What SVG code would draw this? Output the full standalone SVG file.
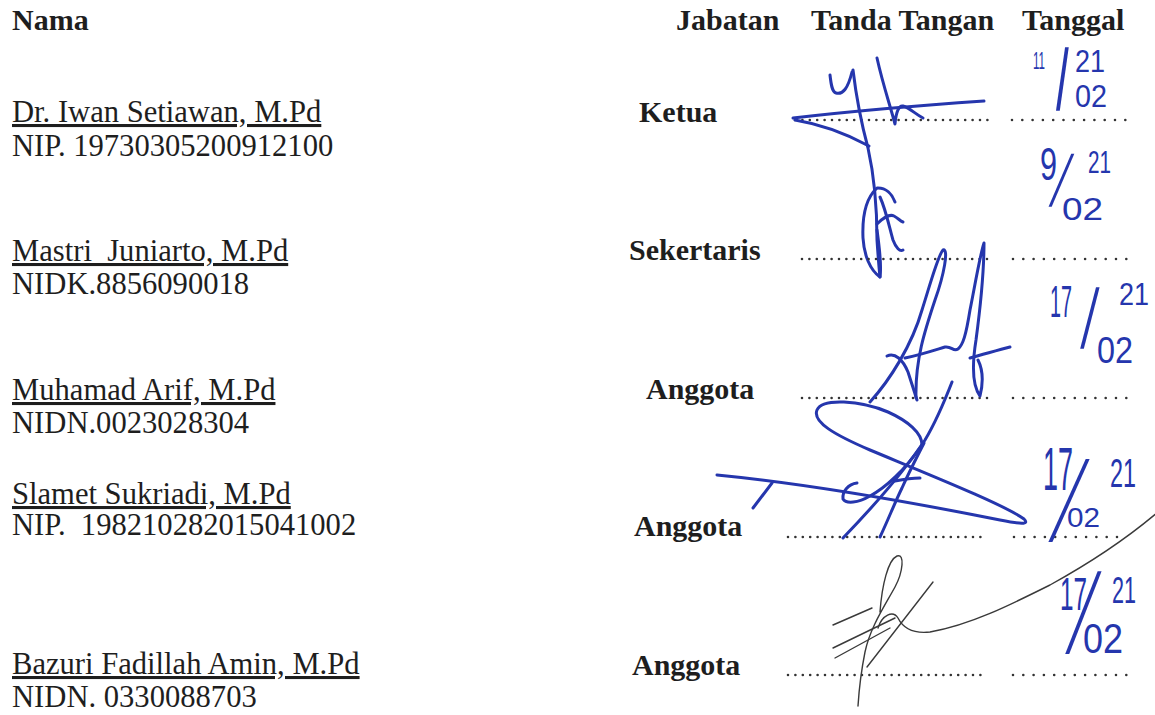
<svg xmlns="http://www.w3.org/2000/svg" width="1155" height="715" viewBox="0 0 1155 715">
<style>
.t{font-family:"Liberation Serif","Times New Roman",serif;font-size:30.6px;fill:#1e1e1e}
.b{font-weight:bold;font-size:30px}
.u{text-decoration:underline}
.dots{stroke:#333;stroke-width:2.6;stroke-linecap:round;stroke-dasharray:0 7.4;fill:none}
.dd{stroke-dasharray:0 10.3}
.sig{fill:none;stroke:#2536ad;stroke-width:3;stroke-linecap:round;stroke-linejoin:round}
.sigk{fill:none;stroke:#3a3a3a;stroke-width:1.4;stroke-linecap:round;stroke-linejoin:round}
.hw{font-family:"Liberation Sans",Arial,sans-serif;fill:#2536ad}
</style>
<rect width="1155" height="715" fill="#fff"/>

<g id="header">
<text class="t b" x="12" y="30">Nama</text>
<text class="t b" x="676" y="30">Jabatan</text>
<text class="t b" x="811" y="30">Tanda Tangan</text>
<text class="t b" x="1022" y="30">Tanggal</text>
</g>

<g id="row-1">
<text class="t u" x="12" y="122">Dr. Iwan Setiawan, M.Pd</text>
<text class="t" x="12" y="156">NIP. 19730305200912100</text>
<text class="t b" x="639" y="122">Ketua</text>
<line class="dots" x1="795" y1="120" x2="988" y2="120"/>
<line class="dots dd" x1="1012" y1="120" x2="1126" y2="120"/>
<g id="sig-1" class="sig">
<path d="M793,118 Q 880,108 984,101"/>
<path d="M795,120 Q 832,126 869,146"/>
<path d="M830,75 C 831,84 832,92 836,93 C 843,95 848,88 852,72"/>
<path d="M853,70 C 856,95 861,122 868,148 C 874,175 877,205 877,240 C 878,255 879,268 880,277"/>
<path d="M877,58 C 883,85 890,105 895,124 C 896,112 899,105 903,106 C 910,108 915,114 923,118"/>
<path d="M877,188 C 866,198 862,215 863,238 C 864,255 870,270 880,277 C 882,265 879,245 877,230"/>
<path d="M878,188 C 886,188 892,194 895,202"/>
<path d="M880,197 C 886,210 890,230 893,240 C 896,248 900,252 903,250"/>
<path d="M877,224 C 883,218 890,214 894,216 C 898,218 900,221 903,222"/>
</g>
<g id="date-1" class="hw">
<text x="1033" y="69" font-size="23" textLength="12" lengthAdjust="spacingAndGlyphs">11</text>
<text font-size="86.7" transform="matrix(0.55,0,0.008,1,1056.1,110.3)">/</text>
<text x="1075" y="72" font-size="31" textLength="30" lengthAdjust="spacingAndGlyphs">21</text>
<text x="1075" y="107" font-size="31" textLength="32" lengthAdjust="spacingAndGlyphs">02</text>
</g>
</g>

<g id="row-2">
<text class="t u" x="12" y="261" xml:space="preserve">Mastri  Juniarto, M.Pd</text>
<text class="t" x="12" y="294">NIDK.8856090018</text>
<text class="t b" x="629" y="260">Sekertaris</text>
<line class="dots" x1="802" y1="259" x2="994" y2="259"/>
<line class="dots dd" x1="1013" y1="259" x2="1127" y2="259"/>
<g id="date-2" class="hw">
<text x="1040" y="180" font-size="46" textLength="17" lengthAdjust="spacingAndGlyphs">9</text>
<text font-size="72" transform="matrix(0.55,0,-0.279,1,1048.8,205.6)">/</text>
<text x="1088" y="173" font-size="32" textLength="23" lengthAdjust="spacingAndGlyphs">21</text>
<text x="1062" y="220" font-size="32" textLength="41" lengthAdjust="spacingAndGlyphs">02</text>
</g>
</g>

<g id="row-3">
<text class="t u" x="12" y="400">Muhamad Arif, M.Pd</text>
<text class="t" x="12" y="433">NIDN.0023028304</text>
<text class="t b" x="646" y="399">Anggota</text>
<line class="dots" x1="802" y1="398" x2="994" y2="398"/>
<line class="dots dd" x1="1013" y1="398" x2="1127" y2="398"/>
<g id="sig-3" class="sig">
<path d="M870,402 C 890,380 912,345 922,310 C 930,285 938,255 943,250 C 949,248 944,275 935,300 C 925,330 915,360 916,398"/>
<path d="M887,356 C 895,352 903,360 908,372 L 917,400"/>
<path d="M905,358 C 920,355 935,350 945,347 C 952,346 953,352 958,349 C 963,345 966,335 970,310 C 975,285 980,255 984,243 C 984,270 980,310 976,340 C 972,365 972,385 980,396 C 984,380 982,368 978,360"/>
<path d="M970,358 C 985,354 998,350 1010,347"/>
</g>
<g id="date-3" class="hw">
<text x="1050" y="317" font-size="44" textLength="22" lengthAdjust="spacingAndGlyphs">17</text>
<text font-size="84" transform="matrix(0.55,0,-0.107,1,1080.3,348.3)">/</text>
<text x="1119" y="305" font-size="32" textLength="30" lengthAdjust="spacingAndGlyphs">21</text>
<text x="1097" y="363" font-size="36" textLength="36" lengthAdjust="spacingAndGlyphs">02</text>
</g>
</g>

<g id="row-4">
<text class="t u" x="12" y="504">Slamet Sukriadi, M.Pd</text>
<text class="t" x="12" y="535" xml:space="preserve">NIP.  198210282015041002</text>
<text class="t b" x="634" y="536">Anggota</text>
<line class="dots" x1="788" y1="537" x2="981" y2="537"/>
<line class="dots dd" x1="1014" y1="537" x2="1127" y2="537"/>
<g id="sig-4" class="sig">
<path d="M717,475 C 800,483 900,500 1000,520 C 1020,524 1030,525 1024,519 C 1005,505 930,475 870,450 C 835,435 812,422 817,410 C 822,398 860,400 888,412 C 908,421 922,433 922,445"/>
<path d="M772,483 L 753,508"/>
<path d="M857,483 C 848,484 842,492 843,499 C 846,504 858,503 870,496 C 885,488 905,470 922,445"/>
<path d="M843,538 C 870,510 905,470 925,440 C 937,420 945,400 952,382"/>
<path d="M880,537 C 888,520 896,500 902,488 C 910,470 918,455 924,443"/>
<path d="M895,481 C 905,479 913,478 920,478"/>
</g>
<g id="date-4" class="hw">
<text x="1043" y="490" font-size="62" textLength="30" lengthAdjust="spacingAndGlyphs">17</text>
<text font-size="113" transform="matrix(0.45,0,-0.327,1,1048.7,540.7)">/</text>
<text x="1110" y="487" font-size="40" textLength="26" lengthAdjust="spacingAndGlyphs">21</text>
<text x="1067" y="527" font-size="27" textLength="33" lengthAdjust="spacingAndGlyphs">02</text>
</g>
</g>

<g id="row-5">
<text class="t u" x="12" y="674">Bazuri Fadillah Amin, M.Pd</text>
<text class="t" x="12" y="707">NIDN. 0330088703</text>
<text class="t b" x="632" y="675">Anggota</text>
<line class="dots" x1="788" y1="675" x2="981" y2="675"/>
<line class="dots dd" x1="1013" y1="675" x2="1127" y2="675"/>
<g id="sig-5" class="sigk">
<path d="M880,612 C 882,585 888,560 897,556 C 905,553 903,572 895,587 C 884,607 870,628 865,652 C 861,672 859,690 858,706"/>
<path d="M833,625 L 872,608"/>
<path d="M833,648 L 895,618"/>
<path d="M835,658 L 890,628"/>
<path d="M867,667 L 933,582"/>
<path d="M878,628 C 882,615 893,610 898,618 C 903,628 912,634 930,632 C 970,625 1010,605 1050,585 C 1090,563 1125,540 1158,512"/>
</g>
<g id="date-5" class="hw">
<text x="1060" y="610" font-size="46" textLength="27" lengthAdjust="spacingAndGlyphs">17</text>
<text font-size="113" transform="matrix(0.45,0,-0.268,1,1065.6,652.7)">/</text>
<text x="1112" y="603" font-size="36" textLength="24" lengthAdjust="spacingAndGlyphs">21</text>
<text x="1083" y="653" font-size="42" textLength="40" lengthAdjust="spacingAndGlyphs">02</text>
</g>
</g>
</svg>
